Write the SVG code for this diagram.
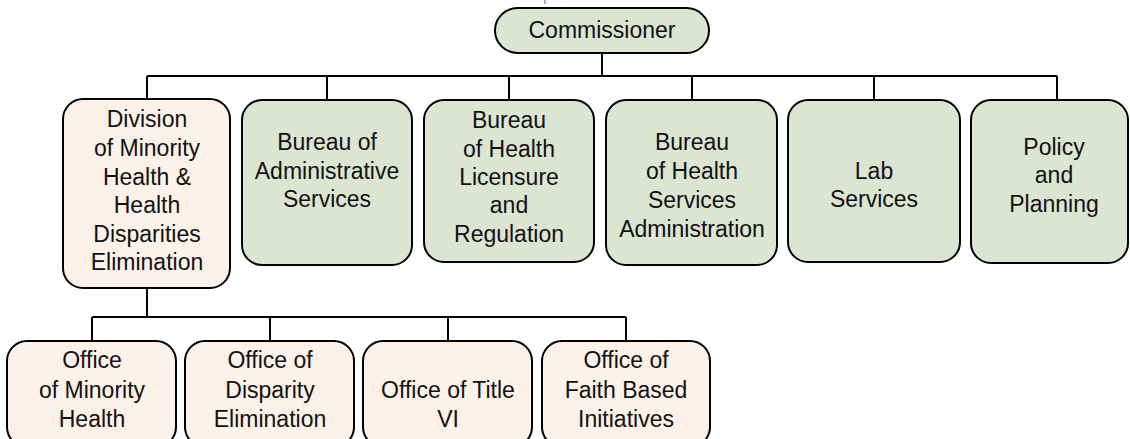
<svg xmlns="http://www.w3.org/2000/svg" width="1130" height="439" viewBox="0 0 1130 439">
  <style>
    .box { stroke: #000; stroke-width: 2; }
    .green { fill: #dce5d2; }
    .peach { fill: #fdf2e9; }
    .lbl { font-family: "Liberation Sans", Arial, sans-serif; font-size: 23px; fill: #111; text-anchor: middle; }
    .wire { stroke: #000; stroke-width: 2; fill: none; }
  </style>
  <rect width="1130" height="439" fill="#fff"/>

  <!-- small marker at top edge -->
  <line x1="545" y1="0" x2="545" y2="4" stroke="#7d8fd3" stroke-width="1.5"/>

  <!-- connectors -->
  <g id="connectors">
    <path class="wire" d="M602 53 V76 M147 76 H1057 M147 76 V99 M327 76 V100 M509 76 V100 M692 76 V100 M874 76 V100 M1057 76 V100"/>
    <path class="wire" d="M147 288 V317 M92 317 H626 M92 317 V341 M270 317 V341 M448 317 V341 M626 317 V341"/>
  </g>

  <g id="commissioner">
    <rect class="box green" x="495" y="8" width="214" height="45" rx="22.5"/>
    <text class="lbl" x="602" y="38">Commissioner</text>
  </g>

  <g id="division">
    <rect class="box peach" x="63" y="99" width="167" height="189" rx="20"/>
    <text class="lbl" x="147" y="127">Division</text>
    <text class="lbl" x="147" y="156">of Minority</text>
    <text class="lbl" x="147" y="185">Health &amp;</text>
    <text class="lbl" x="147" y="213">Health</text>
    <text class="lbl" x="147" y="242">Disparities</text>
    <text class="lbl" x="147" y="270">Elimination</text>
  </g>

  <g id="admin-services">
    <rect class="box green" x="242" y="100" width="170" height="165" rx="20"/>
    <text class="lbl" x="327" y="150">Bureau of</text>
    <text class="lbl" x="327" y="179">Administrative</text>
    <text class="lbl" x="327" y="207">Services</text>
  </g>

  <g id="licensure">
    <rect class="box green" x="424" y="100" width="170" height="162" rx="20"/>
    <text class="lbl" x="509" y="128">Bureau</text>
    <text class="lbl" x="509" y="157">of Health</text>
    <text class="lbl" x="509" y="185">Licensure</text>
    <text class="lbl" x="509" y="213">and</text>
    <text class="lbl" x="509" y="242">Regulation</text>
  </g>

  <g id="health-services">
    <rect class="box green" x="606" y="100" width="171" height="165" rx="20"/>
    <text class="lbl" x="692" y="150">Bureau</text>
    <text class="lbl" x="692" y="179">of Health</text>
    <text class="lbl" x="692" y="208">Services</text>
    <text class="lbl" x="692" y="237">Administration</text>
  </g>

  <g id="lab">
    <rect class="box green" x="788" y="100" width="172" height="162" rx="20"/>
    <text class="lbl" x="874" y="179">Lab</text>
    <text class="lbl" x="874" y="207">Services</text>
  </g>

  <g id="policy">
    <rect class="box green" x="971" y="100" width="157" height="163" rx="20"/>
    <text class="lbl" x="1054" y="155">Policy</text>
    <text class="lbl" x="1054" y="183">and</text>
    <text class="lbl" x="1054" y="212">Planning</text>
  </g>

  <g id="office-minority">
    <rect class="box peach" x="7" y="341" width="169" height="106" rx="20"/>
    <text class="lbl" x="92" y="368">Office</text>
    <text class="lbl" x="92" y="398">of Minority</text>
    <text class="lbl" x="92" y="427">Health</text>
  </g>

  <g id="office-disparity">
    <rect class="box peach" x="185" y="341" width="169" height="106" rx="20"/>
    <text class="lbl" x="270" y="368">Office of</text>
    <text class="lbl" x="270" y="398">Disparity</text>
    <text class="lbl" x="270" y="427">Elimination</text>
  </g>

  <g id="office-title-vi">
    <rect class="box peach" x="363" y="341" width="169" height="106" rx="20"/>
    <text class="lbl" x="448" y="398">Office of Title</text>
    <text class="lbl" x="448" y="427">VI</text>
  </g>

  <g id="office-faith">
    <rect class="box peach" x="542" y="341" width="168" height="106" rx="20"/>
    <text class="lbl" x="626" y="368">Office of</text>
    <text class="lbl" x="626" y="398">Faith Based</text>
    <text class="lbl" x="626" y="427">Initiatives</text>
  </g>
</svg>
